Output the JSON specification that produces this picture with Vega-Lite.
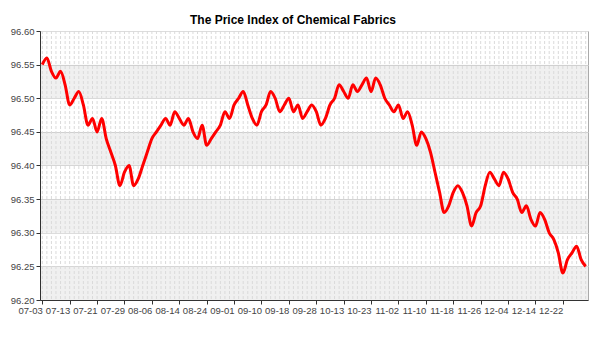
{
  "$schema": "https://vega.github.io/schema/vega-lite/v6.json",
  "width": 548,
  "height": 269,
  "autosize": {"type": "none"},
  "padding": {"left": 40, "top": 31, "right": 12, "bottom": 50},
  "background": "white",
  "title": {
    "text": "The Price Index of Chemical Fabrics",
    "font": "Liberation Sans",
    "fontSize": 12,
    "fontWeight": "bold",
    "color": "#000000",
    "anchor": "middle",
    "dx": -21,
    "offset": -1
  },
  "config": {
    "view": {"stroke": "#aaaaaa", "strokeWidth": 1},
    "axis": {
      "labelFont": "Liberation Sans",
      "labelFontSize": 9.5,
      "labelColor": "#444444",
      "domainColor": "#333333",
      "tickColor": "#333333",
      "tickSize": 4,
      "labelPadding": 2,
      "labelOverlap": false,
      "title": null
    }
  },
  "datasets": {
    "series": [
      {"date": "07-03", "value": 96.55}, {"date": "07-04", "value": 96.56}, {"date": "07-05", "value": 96.54}, {"date": "07-06", "value": 96.53}, {"date": "07-07", "value": 96.54}, {"date": "07-10", "value": 96.52},
      {"date": "07-13", "value": 96.49}, {"date": "07-14", "value": 96.50}, {"date": "07-17", "value": 96.51}, {"date": "07-18", "value": 96.49}, {"date": "07-19", "value": 96.46}, {"date": "07-20", "value": 96.47},
      {"date": "07-21", "value": 96.45}, {"date": "07-24", "value": 96.47}, {"date": "07-25", "value": 96.44}, {"date": "07-26", "value": 96.42}, {"date": "07-27", "value": 96.40}, {"date": "07-28", "value": 96.37},
      {"date": "07-29", "value": 96.39}, {"date": "07-31", "value": 96.40}, {"date": "08-01", "value": 96.37}, {"date": "08-02", "value": 96.38}, {"date": "08-03", "value": 96.40}, {"date": "08-04", "value": 96.42},
      {"date": "08-06", "value": 96.44}, {"date": "08-07", "value": 96.45}, {"date": "08-08", "value": 96.46}, {"date": "08-09", "value": 96.47}, {"date": "08-10", "value": 96.46}, {"date": "08-11", "value": 96.48},
      {"date": "08-14", "value": 96.47}, {"date": "08-15", "value": 96.46}, {"date": "08-16", "value": 96.47}, {"date": "08-17", "value": 96.45}, {"date": "08-18", "value": 96.44}, {"date": "08-21", "value": 96.46},
      {"date": "08-24", "value": 96.43}, {"date": "08-25", "value": 96.44}, {"date": "08-28", "value": 96.45}, {"date": "08-29", "value": 96.46}, {"date": "08-30", "value": 96.48}, {"date": "08-31", "value": 96.47},
      {"date": "09-01", "value": 96.49}, {"date": "09-04", "value": 96.50}, {"date": "09-05", "value": 96.51}, {"date": "09-06", "value": 96.49}, {"date": "09-07", "value": 96.47}, {"date": "09-08", "value": 96.46},
      {"date": "09-10", "value": 96.48}, {"date": "09-11", "value": 96.49}, {"date": "09-12", "value": 96.51}, {"date": "09-13", "value": 96.50}, {"date": "09-14", "value": 96.48}, {"date": "09-15", "value": 96.49},
      {"date": "09-18", "value": 96.50}, {"date": "09-19", "value": 96.48}, {"date": "09-20", "value": 96.49}, {"date": "09-21", "value": 96.47}, {"date": "09-22", "value": 96.48}, {"date": "09-25", "value": 96.49},
      {"date": "09-28", "value": 96.48}, {"date": "09-29", "value": 96.46}, {"date": "10-09", "value": 96.47}, {"date": "10-10", "value": 96.49}, {"date": "10-11", "value": 96.50}, {"date": "10-12", "value": 96.52},
      {"date": "10-13", "value": 96.51}, {"date": "10-16", "value": 96.50}, {"date": "10-17", "value": 96.52}, {"date": "10-18", "value": 96.51}, {"date": "10-19", "value": 96.52}, {"date": "10-20", "value": 96.53},
      {"date": "10-23", "value": 96.51}, {"date": "10-24", "value": 96.53}, {"date": "10-25", "value": 96.52}, {"date": "10-26", "value": 96.50}, {"date": "10-27", "value": 96.49}, {"date": "10-30", "value": 96.48},
      {"date": "11-02", "value": 96.49}, {"date": "11-03", "value": 96.47}, {"date": "11-06", "value": 96.48}, {"date": "11-07", "value": 96.46}, {"date": "11-08", "value": 96.43}, {"date": "11-09", "value": 96.45},
      {"date": "11-10", "value": 96.44}, {"date": "11-13", "value": 96.42}, {"date": "11-14", "value": 96.39}, {"date": "11-15", "value": 96.36}, {"date": "11-16", "value": 96.33}, {"date": "11-17", "value": 96.34},
      {"date": "11-18", "value": 96.36}, {"date": "11-20", "value": 96.37}, {"date": "11-21", "value": 96.36}, {"date": "11-22", "value": 96.34}, {"date": "11-23", "value": 96.31}, {"date": "11-24", "value": 96.33},
      {"date": "11-26", "value": 96.34}, {"date": "11-27", "value": 96.37}, {"date": "11-28", "value": 96.39}, {"date": "11-29", "value": 96.38}, {"date": "11-30", "value": 96.37}, {"date": "12-01", "value": 96.39},
      {"date": "12-04", "value": 96.38}, {"date": "12-05", "value": 96.36}, {"date": "12-06", "value": 96.35}, {"date": "12-07", "value": 96.33}, {"date": "12-08", "value": 96.34}, {"date": "12-11", "value": 96.32},
      {"date": "12-14", "value": 96.31}, {"date": "12-15", "value": 96.33}, {"date": "12-18", "value": 96.32}, {"date": "12-19", "value": 96.30}, {"date": "12-20", "value": 96.29}, {"date": "12-21", "value": 96.27},
      {"date": "12-22", "value": 96.24}, {"date": "12-25", "value": 96.26}, {"date": "12-26", "value": 96.27}, {"date": "12-27", "value": 96.28}, {"date": "12-28", "value": 96.26}, {"date": "12-29", "value": 96.25}
    ],
    "bands": [
      {"low": 96.20, "high": 96.25},
      {"low": 96.30, "high": 96.35},
      {"low": 96.40, "high": 96.45},
      {"low": 96.50, "high": 96.55}
    ]
  },
  "layer": [
    {
      "data": {"name": "bands"},
      "mark": {"type": "rect", "color": "#000000", "opacity": 0.06},
      "encoding": {
        "y": {
          "field": "low", "type": "quantitative",
          "scale": {"domain": [96.2, 96.6], "nice": false, "zero": false},
          "axis": {
            "values": [96.2, 96.25, 96.3, 96.35, 96.4, 96.45, 96.5, 96.55, 96.6],
            "format": ".2f",
            "labelOverlap": false,
            "labelFlush": false,
            "grid": true,
            "gridColor": "#dddddd",
            "gridWidth": 1
          }
        },
        "y2": {"field": "high"}
      }
    },
    {
      "data": {"name": "series"},
      "mark": {"type": "rule", "color": "#dadada", "strokeWidth": 1, "strokeDash": [3, 2]},
      "encoding": {
        "x": {"field": "date", "type": "ordinal", "sort": null}
      }
    },
    {
      "data": {"name": "series"},
      "mark": {"type": "line", "color": "#ff0000", "strokeWidth": 3, "interpolate": "monotone"},
      "encoding": {
        "x": {
          "field": "date", "type": "ordinal", "sort": null,
          "scale": {"type": "point", "padding": 0.5},
          "axis": {
            "values": ["07-03", "07-13", "07-21", "07-29", "08-06", "08-14", "08-24", "09-01", "09-10", "09-18", "09-28", "10-13", "10-23", "11-02", "11-10", "11-18", "11-26", "12-04", "12-14", "12-22"],
            "labelAngle": 0,
            "labelOverlap": false,
            "labelPadding": 6,
            "grid": false
          }
        },
        "y": {
          "field": "value", "type": "quantitative",
          "axis": {
            "values": [96.2, 96.25, 96.3, 96.35, 96.4, 96.45, 96.5, 96.55, 96.6],
            "format": ".2f",
            "labelOverlap": false,
            "labelFlush": false,
            "grid": true,
            "gridColor": "#dddddd",
            "gridWidth": 1
          }
        }
      }
    }
  ]
}
